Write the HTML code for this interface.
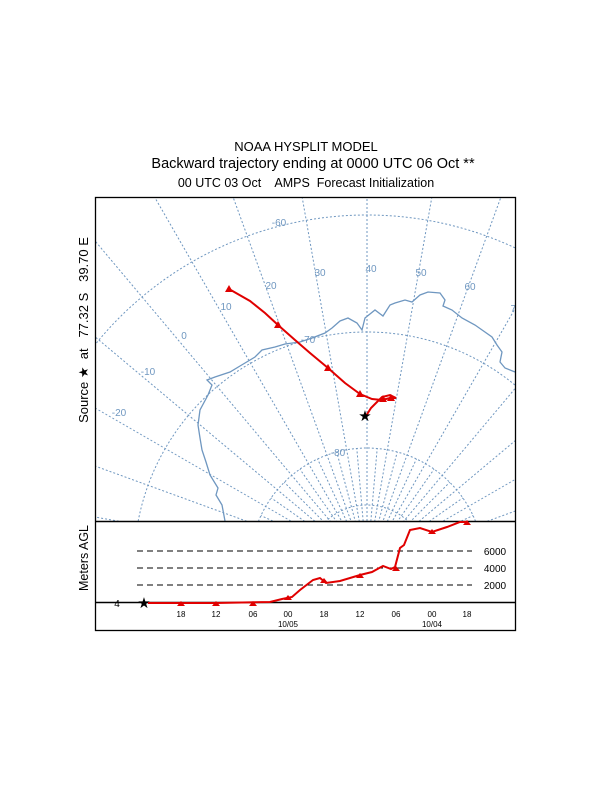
<!DOCTYPE html>
<html><head><meta charset="utf-8"><style>
html,body{margin:0;background:#fff;width:612px;height:792px;overflow:hidden}
svg{display:block;position:absolute;left:0;top:0}
text{font-family:"Liberation Sans",Arial,sans-serif;white-space:pre}
</style></head><body>
<svg id="s" width="612" height="792" xmlns="http://www.w3.org/2000/svg">
<text x="306" y="151" font-size="13" text-anchor="middle">NOAA HYSPLIT MODEL</text>
<text x="313" y="168" font-size="14.5" text-anchor="middle">Backward trajectory ending at 0000 UTC 06 Oct **</text>
<text x="306" y="187" font-size="12.5" text-anchor="middle" xml:space="preserve">00 UTC 03 Oct    AMPS  Forecast Initialization</text>
<defs><clipPath id="c"><rect x="95" y="197" width="421" height="324"/></clipPath></defs>
<g id="grid" clip-path="url(#c)" stroke="#6f97c0" stroke-width="1" fill="none" stroke-dasharray="2,2"></g>
<g clip-path="url(#c)">
<polyline fill="none" stroke="#6f97c0" stroke-width="1.3" points="225,521 222,505 216,495 218,488 210,475 206,462 202,450 200,438 198,425 200,410 208,395 212,385 207,380 215,377 230,372 240,366 255,357 262,350 275,347 285,344 300,342 312,338 325,333 332,328 340,321 348,318 357,323 362,330 365,318 375,310 383,316 390,305 395,303 405,300 412,302 420,295 428,292 440,293 445,300 443,306 452,310 462,318 475,325 492,337 497,345 502,352 500,362 505,368 515,372"/>
<g font-size="10" fill="#6f97c0" text-anchor="middle">
<text x="119" y="416">-20</text><text x="148" y="375">-10</text><text x="184" y="339">0</text><text x="226" y="310">10</text><text x="271" y="289">20</text><text x="320" y="276">30</text><text x="371" y="272">40</text><text x="421" y="276">50</text><text x="470" y="290">60</text><text x="516" y="312">70</text><text x="279" y="226">-60</text><text x="308" y="343">-70</text><text x="338" y="456">-80</text></g>
<polyline fill="none" stroke="#e00000" stroke-width="2" points="229,289 250,301 265,313 278,325 295,340 310,353 328,368 345,383 360,394 372,399 382,400 390,398 396,398 390,395 382,397 377,402 371,408 366,416"/>
<g fill="#e00000"><polygon points="229,285 225,292 233,292"/><polygon points="278,321 274,328 282,328"/><polygon points="328,364 324,371 332,371"/><polygon points="360,390 356,397 364,397"/><polygon points="383,395 379,402 387,402"/><polygon points="391,394 387,401 395,401"/></g>
</g>
<text x="365" y="421" font-size="15" text-anchor="middle">★</text>
<rect x="95.5" y="197.5" width="420" height="433" fill="none" stroke="#000" stroke-width="1.3"/>
<line x1="95" y1="521.5" x2="516" y2="521.5" stroke="#000" stroke-width="1.5"/>
<line x1="95" y1="602.5" x2="516" y2="602.5" stroke="#000" stroke-width="1.5"/>
<g stroke="#000" stroke-dasharray="6,4"><line x1="137" y1="551" x2="472" y2="551"/><line x1="137" y1="568" x2="472" y2="568"/><line x1="137" y1="585" x2="472" y2="585"/></g>
<g font-size="10" text-anchor="middle"><text x="495" y="555">6000</text><text x="495" y="572">4000</text><text x="495" y="589">2000</text></g>
<text x="117" y="607" font-size="10" text-anchor="middle">4</text>
<text x="144" y="608" font-size="15" text-anchor="middle">★</text>
<polyline fill="none" stroke="#e00000" stroke-width="2" points="148,603 216,603 270,602 282,599 292,597 300,590 313,580 320,578 326,583 340,581 360,575 372,572 383,566 391,569 395,567 400,548 404,545 410,530 420,528 432,532 447,527 460,522 467,522"/>
<g fill="#e00000"><polygon points="181,601 177,606 185,606"/><polygon points="216,601 212,606 220,606"/><polygon points="253,601 249,606 257,606"/><polygon points="288,595 284,600 292,600"/><polygon points="324,578 320,583 328,583"/><polygon points="360,573 356,578 364,578"/><polygon points="396,566 392,571 400,571"/><polygon points="432,529 428,534 436,534"/><polygon points="467,520 463,525 471,525"/></g>
<g font-size="8" text-anchor="middle"><text x="181" y="617">18</text><text x="216" y="617">12</text><text x="253" y="617">06</text><text x="288" y="617">00</text><text x="324" y="617">18</text><text x="360" y="617">12</text><text x="396" y="617">06</text><text x="432" y="617">00</text><text x="467" y="617">18</text><text x="288" y="627">10/05</text><text x="432" y="627">10/04</text></g>
<text transform="translate(88,330) rotate(-90)" font-size="13" text-anchor="middle" xml:space="preserve">Source ★  at   77.32 S   39.70 E</text>
<text transform="translate(88,558) rotate(-90)" font-size="12.5" text-anchor="middle">Meters AGL</text>
</svg>
<script>
var g=document.getElementById('grid'),cx=367,cy=565,ns='http://www.w3.org/2000/svg';
[117,233,350,60].forEach(function(r){var c=document.createElementNS(ns,'circle');c.setAttribute('cx',cx);c.setAttribute('cy',cy);c.setAttribute('r',r);g.appendChild(c);});
function ln(lon,r1,r2){var a=(lon-40)*Math.PI/180;var l=document.createElementNS(ns,'line');l.setAttribute('x1',cx+r1*Math.sin(a));l.setAttribute('y1',cy-r1*Math.cos(a));l.setAttribute('x2',cx+r2*Math.sin(a));l.setAttribute('y2',cy-r2*Math.cos(a));g.appendChild(l);}
for(var lon=-60;lon<=140;lon+=10){ln(lon,40,700);ln(lon+5,40,117);}
</script>
</body></html>
